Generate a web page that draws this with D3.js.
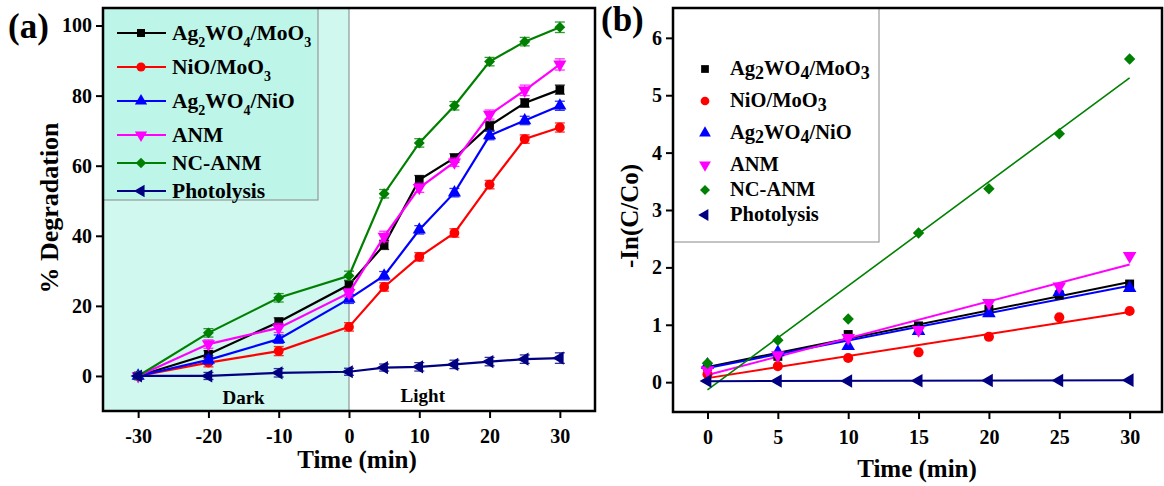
<!DOCTYPE html>
<html>
<head>
<meta charset="utf-8">
<script src="https://cdn.jsdelivr.net/npm/d3@7"></script>
<style>
  body { margin: 0; background: #fff; }
  svg text { font-family: "Liberation Serif", "Times New Roman", serif; font-weight: bold; }
</style>
</head>
<body>
<div id="canvas"></div>
<script>
var width = 1164;
var height = 486;

// series names ("_" marks a subscript digit)
var names = ["Ag_2WO_4/MoO_3", "NiO/MoO_3", "Ag_2WO_4/NiO", "ANM", "NC-ANM", "Photolysis"];
var colors = ["#000000", "#ff0000", "#0000ff", "#ff00ff", "#008000", "#000080"];
var shapes = ["square", "circle", "up", "down", "diamond", "left"];

// panel (a): % degradation vs time
var timeA = [-30, -20, -10, 0, 5, 10, 15, 20, 25, 30];
var degAg2WO4MoO3 = [0, 6.2, 15.4, 26, 37.4, 56, 62.2, 71.4, 77.9, 81.7];
var degNiOMoO3 = [0, 3.8, 7.1, 14, 25.4, 34, 40.8, 54.6, 67.6, 70.9];
var degAg2WO4NiO = [0, 4.6, 10.5, 22, 28.6, 41.7, 52.3, 68.6, 72.9, 77.1];
var degANM = [0, 9.1, 13.7, 23.7, 39.8, 53.7, 61, 74.6, 81.5, 88.9];
var degNCANM = [0, 12.3, 22.3, 28.6, 52, 66.5, 77.1, 89.7, 95.4, 99.5];
var degPhotolysis = [0, 0, 0.9, 1.2, 2.4, 2.6, 3.3, 4.1, 4.8, 5.1];
// error bars
var errAg2WO4MoO3 = [0.8, 1, 1.2, 1.2, 1.3, 1.2, 1.2, 1.3, 1.2, 1.3];
var errNiOMoO3 = [0.8, 1.2, 1.3, 1.2, 1.2, 1.2, 1.2, 1.2, 1.2, 1.3];
var errAg2WO4NiO = [0.8, 1.2, 1.2, 1.3, 1.2, 1.2, 1.2, 1.2, 1.2, 1.3];
var errANM = [0.8, 1.2, 1.3, 1.2, 1.5, 1.3, 1.2, 1.3, 1.5, 1.6];
var errNCANM = [0.8, 1.2, 1.2, 1.3, 1.2, 1.2, 1.2, 1.2, 1.2, 1.5];
var errPhotolysis = [0.8, 1, 1.2, 1, 1, 1.2, 1.2, 1.2, 1.2, 1.5];

// panel (b): -ln(C/Co) vs time
var timeB = [0, 5, 10, 15, 20, 25, 30];
var lnAg2WO4MoO3 = [0.27, 0.45, 0.83, 0.98, 1.27, 1.52, 1.71];
var lnNiOMoO3 = [0.14, 0.28, 0.42, 0.52, 0.79, 1.13, 1.24];
var lnAg2WO4NiO = [0.3, 0.52, 0.63, 0.89, 1.2, 1.57, 1.64];
var lnANM = [0.21, 0.47, 0.77, 0.91, 1.38, 1.67, 2.2];
var lnNCANM = [0.33, 0.73, 1.1, 2.6, 3.37, 4.33, 5.63];
var lnPhotolysis = [0.02, 0.02, 0.02, 0.025, 0.03, 0.03, 0.035];

var ticksA_x = [-30, -20, -10, 0, 10, 20, 30];
var ticksA_y = [0, 20, 40, 60, 80, 100];
var ticksB_x = [0, 5, 10, 15, 20, 25, 30];
var ticksB_y = [0, 1, 2, 3, 4, 5, 6];

var degSeries = [degAg2WO4MoO3, degNiOMoO3, degAg2WO4NiO, degANM, degNCANM, degPhotolysis];
var errSeries = [errAg2WO4MoO3, errNiOMoO3, errAg2WO4NiO, errANM, errNCANM, errPhotolysis];
var lnSeries = [lnAg2WO4MoO3, lnNiOMoO3, lnAg2WO4NiO, lnANM, lnNCANM, lnPhotolysis];

var svg = d3.select("#canvas").append("svg")
  .attr("width", width).attr("height", height)
  .style("background-color", "white");

function symbolPath(shape, size) {
  var type = d3.symbolTriangle, rot = 0;
  if (shape == "square") type = d3.symbolSquare;
  if (shape == "circle") type = d3.symbolCircle;
  if (shape == "diamond") { type = d3.symbolSquare; rot = 45; }
  if (shape == "down") rot = 180;
  if (shape == "left") rot = -90;
  return { d: d3.symbol().type(type).size(size)(), rot: rot };
}

function drawMarker(g, shape, color, x, y, size) {
  var s = symbolPath(shape, size);
  g.append("path").attr("d", s.d)
    .attr("transform", "translate(" + x + "," + y + ") rotate(" + s.rot + ")")
    .attr("fill", color);
}

// write a label with subscripts
function richText(sel, label, fs, subFs, subDy) {
  var parts = label.split(/(_\d)/).filter(function (p) { return p != ""; });
  var shift = 0;
  parts.forEach(function (p) {
    var sub = p[0] == "_";
    var want = sub ? subDy : 0;
    sel.append("tspan").attr("font-size", sub ? subFs : fs)
      .attr("dy", want - shift).text(sub ? p[1] : p);
    shift = want;
  });
}

function frame(g, x0, x1, y0, y1) {
  g.append("rect").attr("x", x0).attr("y", y0).attr("width", x1 - x0).attr("height", y1 - y0)
    .attr("fill", "none").attr("stroke", "black").attr("stroke-width", 2.5);
}

function axes(g, x, y, xt, yt, x0, y1) {
  var fmt = function (d) { return String(d); };
  var xa = g.append("g").attr("transform", "translate(0," + y1 + ")")
    .call(d3.axisBottom(x).tickValues(xt).tickSize(7).tickPadding(6).tickFormat(fmt));
  var ya = g.append("g").attr("transform", "translate(" + x0 + ",0)")
    .call(d3.axisLeft(y).tickValues(yt).tickSize(7).tickPadding(4).tickFormat(fmt));
  [xa, ya].forEach(function (a) {
    a.select(".domain").remove();
    a.selectAll("line").attr("stroke", "black").attr("stroke-width", 2);
    a.selectAll("text").attr("font-size", 20).attr("fill", "black")
      .style("font-family", "'Liberation Serif', serif").style("font-weight", "bold");
  });
  xa.selectAll("text").attr("dy", "0.95em");
}

// ---------- panel (a) ----------
var aL = 103, aR = 595, aT = 8, aB = 411;
var xA = d3.scaleLinear().domain([-35, 35]).range([aL, aR]);
var yA = d3.scaleLinear().domain([-10, 105]).range([aB, aT]);
var ga = svg.append("g");

ga.append("rect").attr("x", aL).attr("y", aT).attr("width", xA(0) - aL).attr("height", aB - aT)
  .attr("fill", "#d0f8ef");
ga.append("line").attr("x1", xA(0)).attr("x2", xA(0)).attr("y1", aT).attr("y2", aB)
  .attr("stroke", "#8a9a96").attr("stroke-width", 1.2);

// legend box (a)
ga.append("rect").attr("x", aL).attr("y", aT).attr("width", 215).attr("height", 192)
  .attr("fill", "#bdf5e8").attr("stroke", "#888").attr("stroke-width", 1);

var lineA = d3.line().x(function (d) { return xA(d[0]); }).y(function (d) { return yA(d[1]); });
degSeries.forEach(function (vals, i) {
  var pts = timeA.map(function (t, j) { return [t, vals[j], errSeries[i][j]]; });
  ga.append("path").datum(pts).attr("d", lineA).attr("fill", "none")
    .attr("stroke", colors[i]).attr("stroke-width", 2.2);
  var eb = ga.append("g").attr("stroke", colors[i]).attr("stroke-width", 1.3).attr("opacity", 0.8);
  pts.forEach(function (p) {
    var cx = xA(p[0]), yt = yA(p[1] + p[2]), yb = yA(p[1] - p[2]);
    eb.append("line").attr("x1", cx).attr("x2", cx).attr("y1", yt).attr("y2", yb);
    eb.append("line").attr("x1", cx - 5).attr("x2", cx + 5).attr("y1", yt).attr("y2", yt);
    eb.append("line").attr("x1", cx - 5).attr("x2", cx + 5).attr("y1", yb).attr("y2", yb);
  });
  pts.forEach(function (p) {
    drawMarker(ga, shapes[i], colors[i], xA(p[0]), yA(p[1]), shapes[i] == "diamond" ? 60 : 75);
  });
});

// legend rows (a)
var ly = 33;
names.forEach(function (n, i) {
  ga.append("line").attr("x1", 117).attr("x2", 166).attr("y1", ly).attr("y2", ly)
    .attr("stroke", colors[i]).attr("stroke-width", 2.2);
  drawMarker(ga, shapes[i], colors[i], 141, ly, shapes[i] == "diamond" ? 55 : 65);
  var t = ga.append("text").attr("x", 172).attr("y", ly + 7).attr("fill", "black");
  richText(t, n, 21.5, 14, 7);
  ly += n.indexOf("_") >= 0 ? 34 : 28;
});

ga.append("text").attr("x", xA(-15)).attr("y", 404).attr("text-anchor", "middle")
  .attr("font-size", 19).text("Dark");
ga.append("text").attr("x", xA(10.5)).attr("y", 402).attr("text-anchor", "middle")
  .attr("font-size", 19).text("Light");

frame(ga, aL, aR, aT, aB);
axes(ga, xA, yA, ticksA_x, ticksA_y, aL, aB);

ga.append("text").attr("x", 357).attr("y", 468).attr("text-anchor", "middle")
  .attr("font-size", 25).text("Time (min)");
ga.append("text").attr("transform", "translate(58,208) rotate(-90)").attr("text-anchor", "middle")
  .attr("font-size", 26).text("% Degradation");
ga.append("text").attr("x", 8).attr("y", 38).attr("font-size", 35).text("(a)");

// ---------- panel (b) ----------
var bL = 673, bR = 1162, bT = 8, bB = 412;
var xB = d3.scaleLinear().domain([-2.45, 32.3]).range([bL, bR]);
var yB = d3.scaleLinear().domain([-0.52, 6.52]).range([bB, bT]);
var gb = svg.append("g");

gb.append("rect").attr("x", bL).attr("y", bT).attr("width", 206).attr("height", 234)
  .attr("fill", "white").attr("stroke", "#888").attr("stroke-width", 1);

function linFit(xs, ys) {
  var mx = d3.mean(xs), my = d3.mean(ys), sxy = 0, sxx = 0;
  xs.forEach(function (x, i) { sxy += (x - mx) * (ys[i] - my); sxx += (x - mx) * (x - mx); });
  var k = sxy / sxx;
  return { k: k, b: my - k * mx };
}

lnSeries.forEach(function (vals, i) {
  var f = linFit(timeB, vals);
  var x0 = timeB[0], x1 = timeB[timeB.length - 1];
  gb.append("line").attr("x1", xB(x0)).attr("y1", yB(f.k * x0 + f.b))
    .attr("x2", xB(x1)).attr("y2", yB(f.k * x1 + f.b))
    .attr("stroke", colors[i]).attr("stroke-width", i == 4 ? 1.6 : 2);
});
lnSeries.forEach(function (vals, i) {
  timeB.forEach(function (t, j) {
    drawMarker(gb, shapes[i], colors[i], xB(t), yB(vals[j]), shapes[i] == "diamond" ? 65 : 80);
  });
});

// legend rows (b)
var lyb = 69;
names.forEach(function (n, i) {
  drawMarker(gb, shapes[i], colors[i], 705, lyb, shapes[i] == "diamond" ? 50 : 60);
  var t = gb.append("text").attr("x", 730).attr("y", lyb + 6).attr("fill", "black");
  richText(t, n, 20.5, 18, 4);
  lyb += n.indexOf("_") >= 0 ? 32 : 25;
});

frame(gb, bL, bR, bT, bB);
axes(gb, xB, yB, ticksB_x, ticksB_y, bL, bB);

gb.append("text").attr("x", 917).attr("y", 477).attr("text-anchor", "middle")
  .attr("font-size", 25).text("Time (min)");
gb.append("text").attr("transform", "translate(638,216) rotate(-90)").attr("text-anchor", "middle")
  .attr("font-size", 25).text("-In(C/Co)");
gb.append("text").attr("x", 601).attr("y", 31).attr("font-size", 35).text("(b)");
</script>
</body>
</html>
